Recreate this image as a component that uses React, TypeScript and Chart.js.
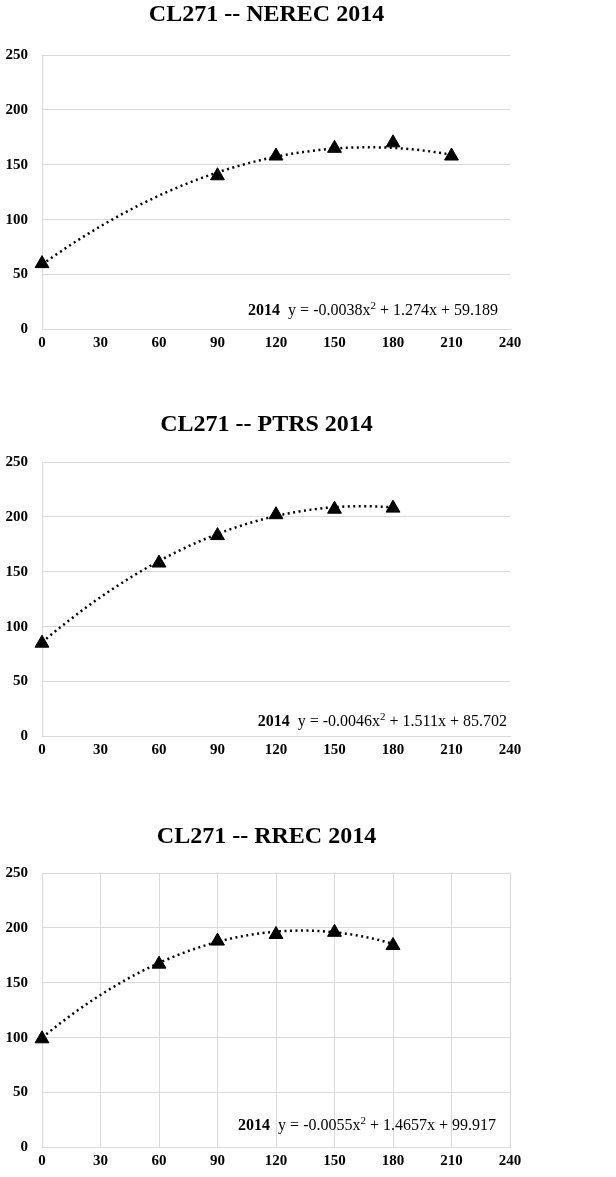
import React, { useEffect, useRef } from "react";
import { Chart, registerables } from "chart.js";

Chart.register(...registerables);

// ---- Data ----
const titles = ["CL271 -- NEREC 2014", "CL271 -- PTRS 2014", "CL271 -- RREC 2014"];
const seriesLabel = "2014";

const daysNEREC = [0, 90, 120, 150, 180, 210];
const valuesNEREC = [60, 140, 158, 165, 170, 158];

const daysPTRS = [0, 60, 90, 120, 150, 180];
const valuesPTRS = [85, 158, 183, 202, 207, 208];

const daysRREC = [0, 60, 90, 120, 150, 180];
const valuesRREC = [99, 167, 188, 194, 196, 184];

// trendline coefficients [a, b, c] for y = a x^2 + b x + c
const trendNEREC = [-0.0038, 1.274, 59.189];
const trendPTRS = [-0.0046, 1.511, 85.702];
const trendRREC = [-0.0055, 1.4657, 99.917];

const trendTextNEREC = ["-0.0038x", " + 1.274x + 59.189"];
const trendTextPTRS = ["-0.0046x", " + 1.511x + 85.702"];
const trendTextRREC = ["-0.0055x", " + 1.4657x + 99.917"];

const xMin = 0, xMax = 240, xStep = 30;
const yMin = 0, yMax = 250, yStep = 50;

// ---- Layout / style ----
const FONT = '"Liberation Serif", "Times New Roman", serif';
const GRID = "#d9d9d9";

const panels = [
  { title: titles[0], days: daysNEREC, values: valuesNEREC, coef: trendNEREC, text: trendTextNEREC, top: 0, titleOffset: 40, eqRight: 12, eqBottom: 18.8, vGrid: false },
  { title: titles[1], days: daysPTRS, values: valuesPTRS, coef: trendPTRS, text: trendTextPTRS, top: 407, titleOffset: 37, eqRight: 3, eqBottom: 14.7, vGrid: false },
  { title: titles[2], days: daysRREC, values: valuesRREC, coef: trendRREC, text: trendTextRREC, top: 818, titleOffset: 36.5, eqRight: 14, eqBottom: 21.8, vGrid: true },
];

function trendPoints(coef: number[], maxX: number) {
  const pts: { x: number; y: number }[] = [];
  for (let x = 0; x <= maxX; x += 2) {
    pts.push({ x, y: coef[0] * x * x + coef[1] * x + coef[2] });
  }
  return pts;
}

function Panel({ p }: { p: any }) {
  const ref = useRef<HTMLCanvasElement | null>(null);
  useEffect(() => {
    const canvas = ref.current!;
    const maxDay = Math.max(...p.days);
    const titlePlugin = {
      id: "panelTitle",
      afterDraw(chart: any) {
        const ctx = chart.ctx;
        ctx.save();
        ctx.font = `bold 24px ${FONT}`;
        ctx.fillStyle = "#000";
        ctx.textAlign = "center";
        ctx.textBaseline = "middle";
        ctx.fillText(p.title, 266.5, chart.chartArea.top - p.titleOffset);
        ctx.restore();
      },
    };
    const eqPlugin = {
      id: "eqLabel",
      afterDatasetsDraw(chart: any) {
        const ctx = chart.ctx;
        const area = chart.chartArea;
        ctx.save();
        ctx.fillStyle = "#000";
        ctx.textBaseline = "middle";
        ctx.textAlign = "left";
        const boldFont = `bold 16px ${FONT}`;
        const normFont = `16px ${FONT}`;
        const supFont = `11px ${FONT}`;
        const segs = [
          { t: seriesLabel, f: boldFont, dy: 0 },
          { t: "  y = " + p.text[0], f: normFont, dy: 0 },
          { t: "2", f: supFont, dy: -5 },
          { t: p.text[1], f: normFont, dy: 0 },
        ];
        let total = 0;
        const widths = segs.map((s) => {
          ctx.font = s.f;
          const w = ctx.measureText(s.t).width;
          total += w;
          return w;
        });
        let x = area.right - p.eqRight - total;
        const y = area.bottom - p.eqBottom;
        segs.forEach((s, i) => {
          ctx.font = s.f;
          ctx.fillText(s.t, x, y + s.dy);
          x += widths[i];
        });
        ctx.restore();
      },
    };
    const chart = new Chart(canvas, {
      type: "scatter",
      data: {
        datasets: [
          {
            label: "trend",
            data: trendPoints(p.coef, maxDay),
            showLine: true,
            borderColor: "#000",
            borderWidth: 2.5,
            borderDash: [2, 3.5],
            pointRadius: 0,
            fill: false,
            tension: 0,
            clip: false,
          },
          {
            label: seriesLabel,
            data: p.days.map((d: number, i: number) => ({ x: d, y: p.values[i] })),
            showLine: false,
            pointStyle: "triangle",
            pointRadius: 8,
            backgroundColor: "#000",
            borderColor: "#000",
            borderWidth: 1,
            clip: false,
          },
        ],
      },
      options: {
        animation: false,
        responsive: false,
        devicePixelRatio: 1,
        layout: { padding: { top: 55, left: 0, right: 106, bottom: 0 } },
        plugins: { legend: { display: false }, tooltip: { enabled: false }, title: { display: false } },
        scales: {
          x: {
            type: "linear",
            min: xMin,
            max: xMax,
            ticks: { stepSize: xStep, color: "#000", padding: 5, font: { family: FONT, size: 15, weight: "bold" } },
            grid: { display: p.vGrid, color: GRID, lineWidth: 1, drawTicks: false },
            border: { display: true, color: GRID, width: 1 },
            afterFit: (s: any) => { s.height = 60.5; },
          },
          y: {
            type: "linear",
            min: yMin,
            max: yMax,
            ticks: { stepSize: yStep, color: "#000", padding: 14, font: { family: FONT, size: 15, weight: "bold" } },
            grid: { color: GRID, lineWidth: 1, drawTicks: false },
            border: { display: true, color: GRID, width: 1 },
            afterFit: (s: any) => { s.width = 42; },
          },
        },
      },
      plugins: [titlePlugin, eqPlugin],
    } as any);
    return () => chart.destroy();
  }, []);
  return (
    <canvas
      ref={ref}
      width={616}
      height={390}
      style={{ position: "absolute", left: 0, top: p.top, width: 616, height: 390 }}
    />
  );
}

export default function App() {
  useEffect(() => {
    document.body.style.margin = "0";
  }, []);
  return (
    <div style={{ position: "relative", width: 616, height: 1177, background: "#fff" }}>
      {panels.map((p, i) => (
        <Panel key={i} p={p} />
      ))}
    </div>
  );
}
